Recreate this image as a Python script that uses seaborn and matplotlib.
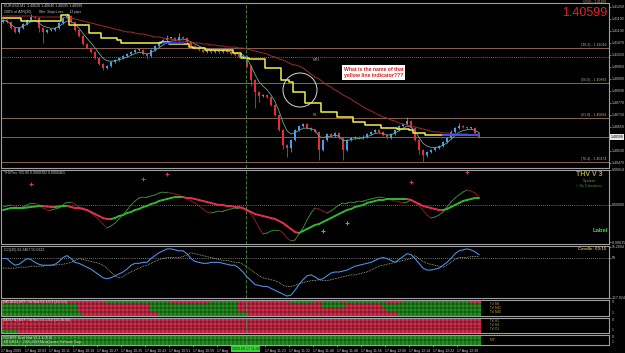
import numpy as np
import pandas as pd
import matplotlib
matplotlib.use("Agg")
import matplotlib.pyplot as plt
import seaborn as sns
from matplotlib.collections import LineCollection
from matplotlib.colors import ListedColormap
from matplotlib.patches import Ellipse

# EURUSD M1 closes
closes = [1.41184, 1.41174, 1.41144, 1.41124, 1.41144, 1.41164, 1.41184, 1.41199, 1.41194, 1.41144,
          1.41124, 1.41134, 1.41134, 1.41144, 1.41169, 1.41194, 1.41204, 1.41174, 1.41134, 1.41104,
          1.41064, 1.41044, 1.41024, 1.40994, 1.40964, 1.40944, 1.40954, 1.40974, 1.40984, 1.40994,
          1.41004, 1.41014, 1.41024, 1.41034, 1.41034, 1.41014, 1.41004, 1.41034, 1.41054, 1.41074,
          1.41084, 1.41094, 1.41094, 1.41084, 1.41099, 1.41094, 1.41074, 1.41054, 1.41044, 1.41034,
          1.41024, 1.41034, 1.41024, 1.41029, 1.41024, 1.41034, 1.41024, 1.41014, 1.41009, 1.40999,
          1.41004, 1.40954, 1.40884, 1.40824, 1.40804, 1.40809, 1.40799, 1.40759, 1.40709, 1.40634,
          1.40559, 1.40544, 1.40584, 1.40634, 1.40654, 1.40664, 1.40644, 1.40634, 1.40624, 1.40534,
          1.40584, 1.40614, 1.40604, 1.40619, 1.40594, 1.40534, 1.40584, 1.40594, 1.40599, 1.40594,
          1.40599, 1.40614, 1.40624, 1.40634, 1.40624, 1.40609, 1.40594, 1.40614, 1.40634, 1.40654,
          1.40664, 1.40679, 1.40644, 1.40584, 1.40534, 1.40509, 1.40524, 1.40534, 1.40544, 1.40554,
          1.40574, 1.40594, 1.40624, 1.40644, 1.40654, 1.40649, 1.40644, 1.40644, 1.40619, 1.40599]
first_open = 1.41174

# wick lengths in pips beyond the body
wick_up = [0.5, 0.5, 0.5, 0.5, 0.5, 0.5, 0.5, 1.5, 0.5, 0.5, 0.5, 0.5, 0.5, 0.5, 0.5, 0.5, 1.5, 0.5, 0.5, 0.5,
           0.5, 0.5, 0.5, 0.5, 0.5, 0.5, 0.5, 0.5, 0.5, 0.5, 0.5, 0.5, 0.5, 0.5, 0.5, 0.5, 0.5, 0.5, 0.5, 0.5,
           0.5, 1.5, 0.5, 0.5, 2.0, 0.5, 0.5, 0.5, 0.5, 0.5, 0.5, 0.5, 0.5, 0.5, 0.5, 0.5, 0.5, 0.5, 0.5, 0.5,
           0.5, 0.5, 0.5, 0.5, 0.5, 0.5, 0.5, 0.5, 0.5, 0.5, 0.5, 0.5, 0.5, 0.5, 0.5, 0.5, 0.5, 0.5, 0.5, 0.5,
           0.5, 0.5, 0.5, 0.5, 0.5, 0.5, 0.5, 0.5, 0.5, 0.5, 1.0, 0.5, 0.5, 0.5, 0.5, 0.5, 0.5, 0.5, 0.5, 0.5,
           0.5, 2.0, 0.5, 0.5, 0.5, 0.5, 0.5, 0.5, 0.5, 0.5, 0.5, 0.5, 1.0, 0.5, 1.5, 0.5, 0.5, 0.5, 0.5, 0.5]
wick_dn = [0.5, 0.5, 0.5, 0.5, 0.5, 0.5, 0.5, 0.5, 0.5, 2.0, 5.5, 0.5, 0.5, 0.5, 0.5, 0.5, 0.5, 0.5, 0.5, 0.5,
           0.5, 0.5, 0.5, 0.5, 0.5, 1.0, 0.5, 0.5, 0.5, 0.5, 0.5, 0.5, 0.5, 0.5, 0.5, 0.5, 1.5, 0.5, 0.5, 0.5,
           0.5, 0.5, 0.5, 0.5, 0.5, 0.5, 0.5, 0.5, 0.5, 0.5, 0.5, 0.5, 0.5, 0.5, 0.5, 0.5, 0.5, 0.5, 0.5, 0.5,
           0.5, 0.5, 3.0, 8.0, 3.0, 0.5, 0.5, 0.5, 0.5, 0.5, 2.0, 4.5, 2.0, 0.5, 0.5, 0.5, 0.5, 0.5, 0.5, 5.0,
           0.5, 0.5, 0.5, 0.5, 0.5, 5.0, 0.5, 0.5, 0.5, 0.5, 0.5, 0.5, 0.5, 0.5, 0.5, 0.5, 0.5, 0.5, 0.5, 0.5,
           0.5, 0.5, 0.5, 0.5, 2.0, 3.5, 1.0, 0.5, 0.5, 0.5, 0.5, 0.5, 0.5, 0.5, 0.5, 0.5, 0.5, 0.5, 0.5, 0.5]

# the yellow step line
yellow_line = [1.41194, 1.41194, 1.41194, 1.41194, 1.41194, 1.41179, 1.41179, 1.41179, 1.41179, 1.41179,
               1.41179, 1.41179, 1.41179, 1.41179, 1.41179, 1.41209, 1.41209, 1.41159, 1.41159, 1.41159,
               1.41159, 1.41159, 1.41119, 1.41119, 1.41119, 1.41094, 1.41094, 1.41094, 1.41094, 1.41084,
               1.41069, 1.41069, 1.41069, 1.41069, 1.41069, 1.41069, 1.41069, 1.41069, 1.41069, 1.41069,
               1.41074, 1.41074, 1.41064, 1.41064, 1.41064, 1.41064, 1.41064, 1.41049, 1.41044, 1.41044,
               1.41044, 1.41034, 1.41034, 1.41034, 1.41034, 1.41034, 1.41034, 1.41034, 1.41019, 1.41019,
               1.40994, 1.40994, 1.40989, 1.40989, 1.40989, 1.40989, 1.40944, 1.40944, 1.40944, 1.40944,
               1.40884, 1.40884, 1.40874, 1.40824, 1.40824, 1.40824, 1.40769, 1.40769, 1.40769, 1.40769,
               1.40724, 1.40724, 1.40724, 1.40724, 1.40699, 1.40699, 1.40699, 1.40699, 1.40674, 1.40674,
               1.40674, 1.40659, 1.40659, 1.40659, 1.40659, 1.40644, 1.40644, 1.40644, 1.40644, 1.40639,
               1.40639, 1.40639, 1.40634, 1.40619, 1.40619, 1.40619, 1.40609, 1.40609, 1.40609, 1.40609,
               1.40609, 1.40609, 1.40609, 1.40609, 1.40609, 1.40609, 1.40609, 1.40609, 1.40609, 1.40609]

# slow dark red moving average
red_ma = [1.41204, 1.41204, 1.41204, 1.41204, 1.41204, 1.41204, 1.41204, 1.41204, 1.41199, 1.41199,
          1.41199, 1.41199, 1.41199, 1.41199, 1.41199, 1.41199, 1.41194, 1.41194, 1.41189, 1.41184,
          1.41179, 1.41174, 1.41169, 1.41164, 1.41159, 1.41154, 1.41149, 1.41144, 1.41139, 1.41134,
          1.41129, 1.41124, 1.41124, 1.41119, 1.41114, 1.41114, 1.41109, 1.41104, 1.41099, 1.41099,
          1.41094, 1.41089, 1.41089, 1.41084, 1.41079, 1.41079, 1.41074, 1.41074, 1.41069, 1.41069,
          1.41064, 1.41064, 1.41059, 1.41059, 1.41054, 1.41054, 1.41049, 1.41049, 1.41049, 1.41044,
          1.41044, 1.41039, 1.41034, 1.41029, 1.41024, 1.41019, 1.41014, 1.41004, 1.40999, 1.40989,
          1.40984, 1.40974, 1.40964, 1.40959, 1.40954, 1.40944, 1.40929, 1.40914, 1.40899, 1.40889,
          1.40874, 1.40859, 1.40849, 1.40834, 1.40824, 1.40809, 1.40799, 1.40789, 1.40774, 1.40764,
          1.40749, 1.40739, 1.40729, 1.40719, 1.40709, 1.40699, 1.40694, 1.40684, 1.40679, 1.40669,
          1.40664, 1.40659, 1.40654, 1.40649, 1.40644, 1.40639, 1.40634, 1.40629, 1.40624, 1.40624,
          1.40619, 1.40619, 1.40619, 1.40614, 1.40614, 1.40614, 1.40614, 1.40609, 1.40609, 1.40609]

# blue line pieces (bars 40-45 and 110-119)
blue_a_bars = [40, 41, 42, 43, 44, 45]
blue_a = [1.41069, 1.41069, 1.41069, 1.41069, 1.41069, 1.41069]
blue_b_bars = [110, 111, 112, 113, 114, 115, 116, 117, 118, 119]
blue_b = [1.40609, 1.40609, 1.40609, 1.40609, 1.40609, 1.40609, 1.40609, 1.40609, 1.40609, 1.40609]

fib_levels = [1.41044, 1.40869, 1.40694, 1.40474]
fib_names = ["(38.2)", "(50.0)", "(61.8)", "(76.4)"]
fib_top_name, fib_top_level = "(23.6)", 1.41269
pivot_level = 1.40999
last_price = 1.40599
price_ticks = [1.41250, 1.41190, 1.41130, 1.41070, 1.41010, 1.40950, 1.40890,
               1.40830, 1.40770, 1.40710, 1.40650, 1.40530, 1.40470]

# THV oscillator, units of 1e-6
thv_slow = [-20, -16, -12, -12, -12, -12, -10, -8, -6, -4,
            -4, -6, -8, -8, -6, -4, -4, -8, -12, -12,
            -16, -20, -28, -36, -44, -52, -56, -56, -52, -44,
            -40, -32, -28, -20, -16, -8, -4, 4, 8, 16,
            20, 24, 28, 32, 32, 32, 28, 28, 24, 20,
            16, 12, 8, 4, 0, 0, -4, -4, -8, -8,
            -12, -20, -28, -36, -40, -44, -48, -52, -56, -64,
            -72, -84, -96, -108, -112, -104, -96, -88, -80, -76,
            -68, -60, -52, -44, -36, -28, -20, -16, -8, -4,
            0, 8, 12, 16, 20, 20, 24, 24, 24, 24,
            24, 24, 20, 12, 4, -4, -8, -12, -16, -20,
            -20, -16, -8, 0, 8, 16, 20, 24, 28, 28]
thv_fast = [-8, -4, 0, -4, -12, -8, 0, 8, 8, 0,
            -12, -20, -20, -16, -12, 0, 12, 12, 4, -8,
            -12, -20, -32, -44, -60, -76, -92, -84, -72, -56,
            -40, -20, 0, 16, 28, 32, 32, 36, 40, 48,
            52, 52, 48, 44, 40, 32, 24, 16, 8, -4,
            -16, -28, -32, -28, -24, -24, -20, -16, -12, -12,
            -16, -24, -36, -60, -92, -116, -112, -104, -100, -100,
            -112, -132, -144, -140, -116, -92, -60, -32, -12, -16,
            -24, -32, -24, -12, 0, 8, 8, 12, 12, 16,
            16, 20, 24, 28, 32, 32, 24, 20, 16, 12,
            8, 12, 20, 12, -4, -20, -40, -52, -48, -40,
            -28, -8, 12, 28, 40, 52, 60, 56, 48, 32]
sell_bars = [7, 35, 41, 102, 116]
sell_vals = [84, 104, 124, 92, 132]
buy_bars = [80, 86]
buy_vals = [-104, -72]
thv_ticks = [140, 0, -148]

cci = [46, 46, 30, 18, 22, 34, 46, 42, 30, 22,
       18, 18, 18, 22, 34, 50, 58, 46, 30, 26,
       18, 10, 2, -10, -22, -34, -38, -34, -26, -18,
       -10, 2, 18, 26, 26, 30, 30, 46, 58, 70,
       78, 86, 86, 82, 78, 78, 66, 46, 34, 30,
       26, 26, 30, 30, 30, 26, 22, 18, 18, 6,
       -10, -30, -46, -62, -66, -70, -70, -78, -86, -94,
       -102, -110, -106, -86, -62, -42, -26, -22, -30, -42,
       -38, -26, -14, -10, -10, -6, -2, 6, 14, 18,
       22, 26, 30, 38, 46, 50, 46, 38, 30, 42,
       54, 66, 62, 46, 26, 6, -2, -2, 2, 6,
       18, 30, 46, 66, 78, 82, 86, 82, 74, 62]
cci_signal = [6, 6, 6, 6, 10, 10, 10, 14, 14, 14,
              14, 18, 18, 18, 22, 22, 26, 30, 38, 46,
              42, 38, 34, 30, 26, 18, 6, -10, -26, -34,
              -30, -18, -10, -2, 6, 14, 18, 26, 34, 42,
              46, 50, 50, 50, 50, 54, 62, 70, 66, 62,
              58, 54, 50, 46, 42, 38, 38, 34, 30, 30,
              22, 10, -2, -14, -26, -34, -38, -42, -46, -54,
              -66, -70, -70, -66, -58, -54, -50, -46, -46, -42,
              -46, -46, -42, -38, -34, -30, -26, -22, -22, -18,
              -14, -10, -2, 6, 14, 18, 22, 26, 30, 34,
              38, 42, 46, 58, 46, 34, 26, 22, 18, 14,
              10, 18, 30, 42, 50, 50, 50, 54, 54, 54]
cci_ticks = [95.2004, 50, -117.024]

# histogram panels: runs of (state, length), 1 = green, 0 = red
tdi_fast_rows = [
    [(0, 26), (1, 16), (0, 10), (1, 7), (0, 13), (1, 6), (0, 2), (1, 5), (0, 1), (1, 10), (0, 4), (1, 17), (0, 3)],
    [(1, 19), (0, 18), (1, 22), (0, 21), (1, 6), (0, 9), (1, 25)],
    [(1, 19), (0, 18), (1, 22), (0, 37), (1, 24)],
    [(1, 20), (0, 19), (1, 22), (0, 38), (1, 21)],
]
tdi_slow_rows = [
    [(0, 120)],
    [(0, 120)],
    [(0, 120)],
    [(1, 4), (0, 116)],
]
grail_rows = [
    [(1, 120)],
    [(1, 120)],
]

time_labels = ["17 Aug 2009", "17 Aug 10:03", "17 Aug 10:11", "17 Aug 10:19", "17 Aug 10:27",
               "17 Aug 10:35", "17 Aug 10:43", "17 Aug 10:51", "17 Aug 10:59", "17 Aug",
               "", "17 Aug 11:23", "17 Aug 11:32", "17 Aug 11:40", "17 Aug 11:48",
               "17 Aug 11:56", "17 Aug 12:06", "17 Aug 12:14", "17 Aug 12:22", "17 Aug 12:30"]
cursor_bar = 60.7

W, H = 625, 353
plt.rcParams['font.family'] = ['Liberation Sans', 'DejaVu Sans']
plt.rcParams['axes.unicode_minus'] = False
fig = plt.figure(figsize=(W / 100, H / 100), dpi=100, facecolor='black')

GRID = '#a0a0a0'
TXT = '#c8c8c8'
UP, DOWN = '#3f9ef5', '#ee2a36'


def box(top, bottom):
    return [1 / W, 1 - bottom / H, 608 / W, (bottom - top) / H]


def px(x, y):
    return x / W, 1 - y / H


def style(ax):
    ax.set_facecolor('black')
    for s in ax.spines.values():
        s.set_visible(True)
        s.set_color(GRID)
        s.set_linewidth(0.8)
    ax.tick_params(colors=TXT, labelsize=2.5, length=1.5, width=0.4, pad=0.8)
    ax.yaxis.tick_right()
    ax.set_xticks([])


def slope_line(ax, vals, up, down, lw):
    x = np.arange(len(vals))
    pts = np.column_stack([x, vals])
    segs = np.stack([pts[:-1], pts[1:]], axis=1)
    cols = []
    last = up
    for a, b in zip(vals[:-1], vals[1:]):
        if b > a:
            last = up
        elif b < a:
            last = down
        cols.append(last)
    ax.add_collection(LineCollection(segs, colors=cols, linewidths=lw, capstyle='round'))


def expand(runs):
    return [v for v, n in runs for _ in range(n)]


bars = np.arange(len(closes))

# ---------------- price panel ----------------
ax = fig.add_axes(box(3, 168))
style(ax)
df = pd.DataFrame({'bar': bars, 'close': closes})
df['open'] = [first_open] + closes[:-1]
df['top'] = df[['open', 'close']].max(axis=1)
df['bot'] = df[['open', 'close']].min(axis=1)
df['high'] = df['top'] + np.array(wick_up) * 0.0001
df['low'] = df['bot'] - np.array(wick_dn) * 0.0001
colors = [UP if c >= o else DOWN for o, c in zip(df['open'], df['close'])]
ax.vlines(df['bar'], df['low'], df['high'], colors=colors, linewidth=0.6, zorder=2)
ax.bar(df['bar'], np.maximum(df['top'] - df['bot'], 0.00003), bottom=df['bot'],
       width=0.72, color=colors, linewidth=0, zorder=2)

for lvl, name in zip(fib_levels, fib_names):
    ax.axhline(lvl, color='#8a6452', lw=0.7, zorder=1)
    ax.text(150.8, lvl + 0.00003, f"{name} - {lvl:.5f}", ha='right', va='bottom',
            fontsize=2.5, color='#c8a478', zorder=3)
fig.text(*px(606, 2.2), f"{fib_top_name} - {fib_top_level:.5f}", ha='right', va='center',
         fontsize=2.3, color='#c8a478')
ax.axhline(pivot_level, color='#8c8c8c', lw=0.6, ls=(0, (1, 1.5)), zorder=1)
ax.axhline(last_price, color='#6c7a92', lw=0.6, zorder=1)
ax.text(77.5, pivot_level - 0.00003, "MR3", ha='left', va='top', fontsize=2.5, color='#a0a0a0')
ax.text(77.5, fib_levels[2] + 0.00005, "R1", ha='left', va='bottom', fontsize=2.5, color='#a0a0a0')

df['ema'] = pd.Series(closes).ewm(span=5).mean()
sns.lineplot(data=df, x='bar', y='ema', ax=ax, color='#6aa89c', lw=0.6, zorder=3)
sns.lineplot(x=bars, y=red_ma, ax=ax, color='#a52a2a', lw=0.7, zorder=3)
sns.lineplot(x=bars, y=yellow_line, ax=ax, color='#f2f04a', lw=1.1, drawstyle='steps-mid', zorder=4)
sns.lineplot(x=blue_a_bars, y=blue_a, ax=ax, color='#2a3cff', lw=1.2, zorder=5)
sns.lineplot(x=blue_b_bars, y=blue_b, ax=ax, color='#2a3cff', lw=1.2, zorder=5)
ax.axvline(cursor_bar, color='#4f8f4f', lw=0.6, ls=(0, (4, 2)), zorder=6)

ax.add_patch(Ellipse((74.25, 1.40834), width=8.5, height=0.0017, fill=False,
                     edgecolor='#d8d8d8', lw=0.7, zorder=6))
ax.set_xlim(-0.5, 151.5)
ax.set_ylim(1.40444, 1.41269)
ax.set_yticks(price_ticks)
ax.set_yticklabels([f"{t:.5f}" for t in price_ticks])
ax.set_xlabel('')
ax.set_ylabel('')
ax.text(1.003, last_price, f"{last_price:.5f}", transform=ax.get_yaxis_transform(),
        fontsize=2.5, color='black', va='center', ha='left',
        bbox=dict(facecolor='#e8e8e8', edgecolor='none', pad=0.4), clip_on=False)

fig.text(*px(4, 5.5), "EURUSD,M1  1.40620 1.40640 1.40595 1.40599", fontsize=2.6,
         color=TXT, va='center')
fig.text(*px(4, 12.5), "200% of ATR(20)        Min. Stop Loss:     12 pips", fontsize=2.6,
         color=TXT, va='center')
fig.text(*px(607, 13), "1.40599", fontsize=9, color='#e42222', ha='right', va='center')
fig.text(*px(344, 72.5), "What is the name of that\nyellow line indicator???", fontsize=3.7,
         fontweight='bold', color='#d01e1e', va='center', ha='left', linespacing=1.2,
         bbox=dict(facecolor='white', edgecolor='none', pad=1.2))

# ---------------- THV panel ----------------
ax2 = fig.add_axes(box(170, 244))
style(ax2)
ax2.axhline(0, color='#8c8c8c', lw=0.6, ls=(0, (1, 1.5)))
slope_line(ax2, thv_fast, '#3c9a3c', '#9a1e1e', 0.6)
slope_line(ax2, thv_slow, '#32b432', '#e0304c', 1.4)
sns.scatterplot(x=sell_bars, y=sell_vals, ax=ax2, marker='+', color='#e03a3a', s=9, linewidth=0.7)
sns.scatterplot(x=buy_bars, y=buy_vals, ax=ax2, marker='+', color='#3cd03c', s=9, linewidth=0.7)
ax2.axvline(cursor_bar, color='#4f8f4f', lw=0.6, ls=(0, (4, 2)))
ax2.set_xlim(-0.5, 151.5)
ax2.set_ylim(-156, 140)
ax2.set_yticks(thv_ticks)
ax2.set_yticklabels([f"{t * 1e-6:.5f}" for t in thv_ticks])
ax2.set_xlabel('')
ax2.set_ylabel('')
fig.text(*px(4, 173), "THVTrix: 5/5.00 0.0000382 0.0000461", fontsize=2.6, color=TXT, va='center')
fig.text(*px(589, 174.5), "THV V 3", fontsize=5, fontweight='bold', color='#a8a83a',
         ha='center', va='center')
fig.text(*px(589, 181), "System", fontsize=2.8, color='#7e8a5a', ha='center', va='center')
fig.text(*px(589, 186), "© By Cobraforex", fontsize=2.5, color='#2e9a2e', ha='center', va='center')
fig.text(*px(608, 231), "Label", fontsize=4.3, fontweight='bold', color='#3ee03e',
         ha='right', va='center')

# ---------------- CCI panel ----------------
ax3 = fig.add_axes(box(246, 298))
style(ax3)
ax3.axhline(50, color='#9a9a9a', lw=0.6, ls=(0, (1, 1.5)))
sns.lineplot(x=bars, y=cci_signal, ax=ax3, color='#b4b48c', lw=0.6, ls=(0, (1, 1)))
sns.lineplot(x=bars, y=cci, ax=ax3, color='#4a8fe6', lw=0.8)
ax3.axvline(cursor_bar, color='#4f8f4f', lw=0.6, ls=(0, (4, 2)))
ax3.set_xlim(-0.5, 151.5)
ax3.set_ylim(-118, 98)
ax3.set_yticks(cci_ticks)
ax3.set_yticklabels([f"{t:g}" for t in cci_ticks])
ax3.set_xlabel('')
ax3.set_ylabel('')
fig.text(*px(4, 249.5), "CCI(20) 92.3467 50.0222", fontsize=2.6, color=TXT, va='center')
fig.text(*px(606, 249.5), "Candle: 00:15", fontsize=3.2, fontweight='bold', color='#e0a040',
         ha='right', va='center')

# ---------------- histogram panels ----------------
heat_cmap = ListedColormap(['#d42c4a', '#23901f'])
panels = [
    ((300, 316), tdi_fast_rows, "(M5,M15) MTF Tdi Hist V3.1.0.3 (10,5,0)", ["Tdi M5", "Tdi M15", "Tdi M30"]),
    ((318, 333), tdi_slow_rows, "(M30,H1) MTF Tdi Hist V3.1.0.3 (15,30,60)", ["Tdi H1", "Tdi H4", "Tdi D1"]),
    ((335, 345), grail_rows, "TDI MTF Grail Hist V1.1.1 (5,0)", ["MTF"]),
]
heat_axes = []
for (top, bottom), rows, title, side in panels:
    hx = fig.add_axes(box(top, bottom))
    grid = pd.DataFrame([expand(r) for r in rows])
    sns.heatmap(grid, ax=hx, cmap=heat_cmap, vmin=0, vmax=1, cbar=False,
                linewidths=0, xticklabels=False, yticklabels=False)
    style(hx)
    hx.set_xlim(0, 152)
    hx.set_yticks([])
    # thin black separators between the cells
    hx.vlines(np.arange(1, grid.shape[1]), 0, grid.shape[0], colors='black', lw=0.3)
    hx.hlines(np.arange(1, grid.shape[0]), 0, grid.shape[1], colors='black', lw=0.3)
    hx.axvline(cursor_bar + 0.5, color='#4f8f4f', lw=0.6, ls=(0, (4, 2)))
    hx.text(0.5, 0.1, title, fontsize=2.5, color='#dcdcdc', va='top', ha='left')
    fig.text(*px(490, (top + bottom) / 2), "\n".join(side), fontsize=2.2, color='#c8a050',
             va='center', ha='left', linespacing=1.0)
    fig.text(*px(612, top + 2), "0", fontsize=2.5, color=TXT, va='center')
    fig.text(*px(612, bottom - 3), "1", fontsize=2.5, color=TXT, va='center')
    heat_axes.append(hx)

fig.text(*px(4, 342.5), "MT4 MT4 © 2005-2009 MetaQuotes Software Corp.", fontsize=2.4,
         color='#dcdcdc', va='center')

hx = heat_axes[-1]
hx.set_xticks([6 * k for k in range(len(time_labels))])
hx.set_xticklabels(time_labels, ha='left')
hx.tick_params(axis='x', colors=TXT, labelsize=2.6, length=1.5, width=0.4, pad=1.2)
fig.text(*px(245.5, 349), "2009.08.17 11:04", fontsize=2.6, color='#0c3a0c', ha='center',
         va='center', bbox=dict(facecolor='#3ad03a', edgecolor='none', pad=0.6))

fig.savefig('out.png', dpi=100, facecolor='black')
